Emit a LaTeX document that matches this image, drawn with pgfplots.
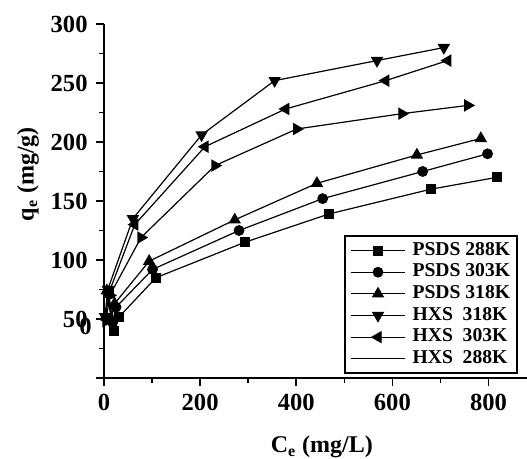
\documentclass[12pt,border=0pt]{standalone}
\usepackage{pgfplots}
\pgfplotsset{compat=1.18}
\usepackage{fontspec}
\setmainfont{Liberation Serif}
\begin{document}
\begin{tikzpicture}
\useasboundingbox (-52pt,-40.5pt) rectangle (211.5pt,189pt);
\begin{axis}[
  scale only axis, width=211.5pt, height=177pt,
  xmin=0, xmax=880, ymin=0, ymax=300,
  axis lines=left, axis line style={-, line width=1pt},
  xtick={0,200,...,800}, minor xtick={100,300,...,700},
  ytick={0,50,...,300}, yticklabels={,50,100,150,200,250,300},
  minor ytick={25,75,...,275},
  tick align=outside, major tick length=4pt, minor tick length=2.5pt,
  tick style={line width=0.8pt, black},
  /pgf/number format/assume math mode=true,
  tick label style={font=\fontsize{12.3}{14}\selectfont\bfseries},
  xlabel={\bfseries C\textsubscript{e} (mg/L)},
  ylabel={\bfseries q\textsubscript{e} (mg/g)},
  label style={font=\fontsize{12}{14}\selectfont},
  xlabel style={at={(axis description cs:0.515,-0.195)}, anchor=center},
  ylabel style={at={(axis description cs:-0.18,0.576)}, anchor=center},
  clip=false,
  every axis plot/.append style={black, line width=0.6pt},
  legend style={at={(axis description cs:0.979,0.011)}, anchor=south east,
    font=\fontsize{9.8}{11}\selectfont\bfseries, draw=black, line width=1pt,
    row sep=0.5pt, column sep=2.5pt,
    inner xsep=2.5pt, inner ysep=2pt, nodes={inner sep=1pt}, cells={anchor=west}},
  legend image code/.code={\draw[mark repeat=2, mark phase=2, line width=0.6pt] plot coordinates {(0pt,0pt) (13.5pt,0pt) (27pt,0pt)};},
]
\addplot[mark=square*, mark size=2.2pt] coordinates {(10,72) (20,40) (32,52) (108,85) (293,115) (468,139) (680,160) (817,170)};
\addlegendentry{PSDS 288K}
\addplot[mark=*, mark size=2.4pt] coordinates {(8,73) (18,47) (25,60) (101,92) (281,125) (455,152) (663,175) (798,190)};
\addlegendentry{PSDS 303K}
\addplot[mark=triangle*, mark size=3pt] coordinates {(6,74) (15,50) (22,63) (94,99) (272,134) (443,165) (651,189) (784,203)};
\addlegendentry{PSDS 318K}
\addplot[mark=triangle*, mark size=3pt, mark options={rotate=180}] coordinates {(2,52) (8,75) (60,135) (203,206) (355,252) (568,269) (707,280)};
\addlegendentry{HXS\ \ 318K}
\addplot[mark=triangle*, mark size=3pt, mark options={rotate=90}] coordinates {(3,50) (10,72) (64,130) (210,196) (378,228) (586,252) (715,269)};
\addlegendentry{HXS\ \ 303K}
\addplot[mark=triangle*, mark size=3pt, mark options={rotate=-90}, forget plot] coordinates {(4,48) (12,70) (77,119) (231,180) (401,211) (620,224) (757,231)};
\addlegendimage{black, line width=0.6pt, no markers}
\addlegendentry{HXS\ \ 288K}
\node[anchor=east, font=\fontsize{12.3}{14}\selectfont\bfseries, inner sep=0pt] at (axis cs:0,44) [xshift=-6pt] {0};
\end{axis}
\end{tikzpicture}
\end{document}
